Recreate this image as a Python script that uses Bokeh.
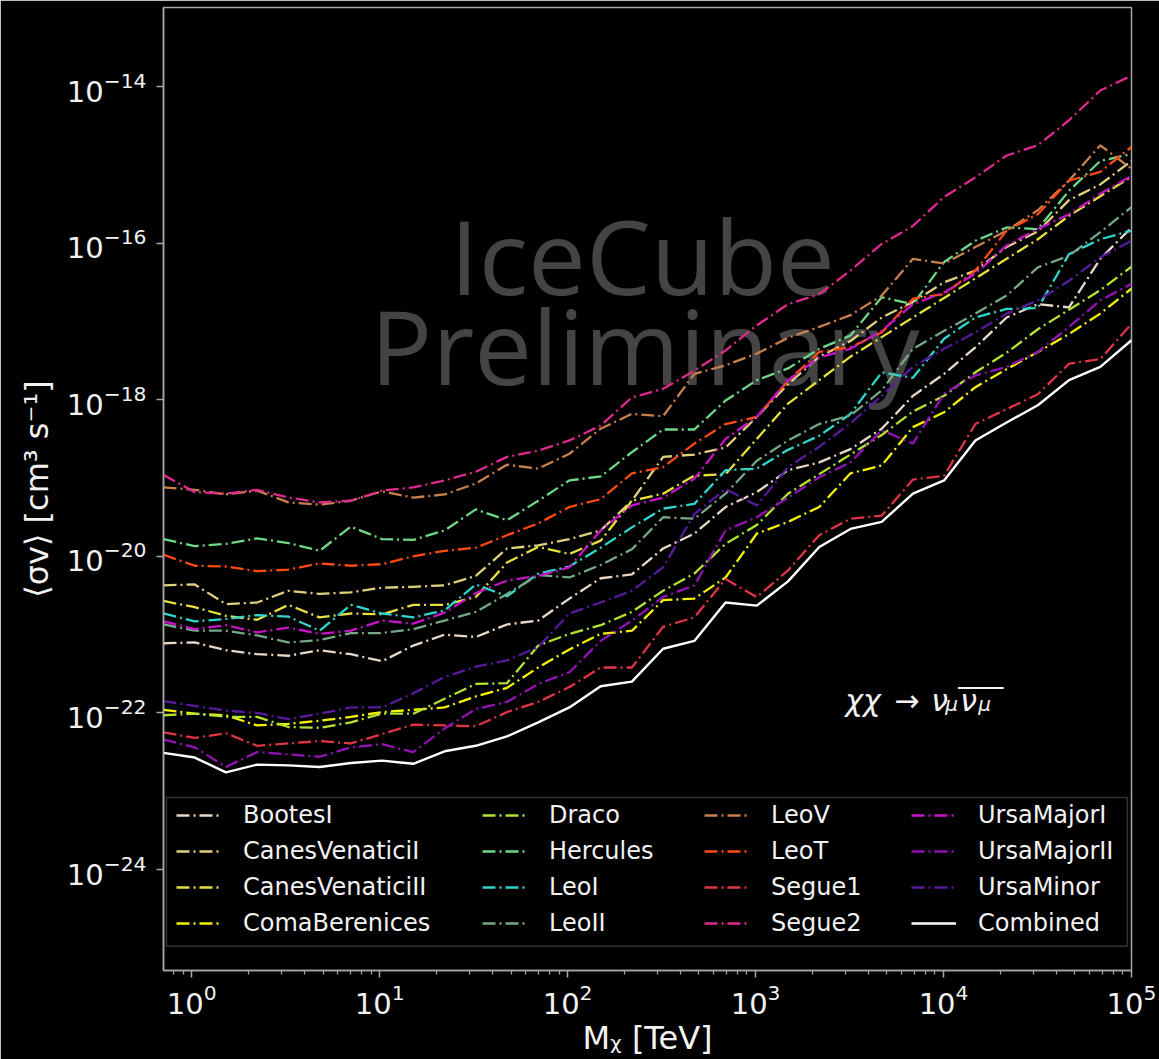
from bokeh.plotting import figure
from bokeh.models import Range1d, FixedTicker, Legend, LegendItem, Label, BoxAnnotation
from bokeh.embed import file_html
from bokeh.resources import INLINE

# Dark-matter mass grid [TeV]
mass_tev = [0.708, 1.038, 1.521, 2.230, 3.269, 4.793, 7.026, 10.30, 15.10, 22.14,
            32.46, 47.58, 69.75, 102.2, 149.9, 219.8, 322.2, 472.2, 692.3, 1015,
            1488, 2182, 3198, 4689, 6873, 10070, 14770, 21650, 31740, 46530, 68230, 100000]

# log10 of <sigma v> upper limits [cm^3 s^-1]
bootes_i = [-21.11, -21.10, -21.20, -21.25, -21.27, -21.20, -21.25, -21.34, -21.14, -21.00, -21.03, -20.87, -20.82, -20.54, -20.28, -20.23, -19.90, -19.71, -19.37, -19.18, -18.90, -18.80, -18.63, -18.37, -17.95, -17.67, -17.33, -16.95, -16.78, -16.82, -16.20, -15.80]
canes_venatici_i = [-20.37, -20.36, -20.61, -20.59, -20.44, -20.48, -20.46, -20.40, -20.39, -20.37, -20.25, -19.90, -19.86, -19.78, -19.67, -19.29, -18.73, -18.70, -18.61, -18.22, -17.80, -17.45, -17.25, -16.95, -16.75, -16.50, -16.35, -16.05, -15.85, -15.45, -15.25, -14.95]
canes_venatici_ii = [-20.57, -20.65, -20.76, -20.81, -20.62, -20.78, -20.73, -20.74, -20.62, -20.62, -20.52, -20.08, -19.88, -19.97, -19.80, -19.29, -19.20, -18.97, -18.95, -18.50, -18.05, -17.75, -17.45, -17.20, -16.95, -16.70, -16.45, -16.20, -15.95, -15.65, -15.40, -15.15]
coma_berenices = [-21.96, -22.01, -22.03, -22.16, -22.14, -22.10, -22.05, -21.99, -21.96, -21.93, -21.79, -21.68, -21.42, -21.19, -20.99, -20.95, -20.56, -20.54, -20.27, -19.71, -19.56, -19.37, -18.94, -18.84, -18.35, -18.16, -17.84, -17.61, -17.39, -17.16, -16.90, -16.58]
draco = [-22.03, -22.01, -22.05, -22.05, -22.18, -22.19, -22.12, -22.01, -22.01, -21.82, -21.63, -21.62, -21.14, -20.99, -20.88, -20.71, -20.44, -20.22, -19.84, -19.60, -19.20, -18.95, -18.70, -18.45, -18.15, -17.95, -17.65, -17.40, -17.10, -16.85, -16.60, -16.30]
hercules = [-19.78, -19.87, -19.84, -19.77, -19.83, -19.93, -19.62, -19.78, -19.79, -19.67, -19.40, -19.54, -19.29, -19.03, -18.98, -18.67, -18.38, -18.38, -18.01, -17.75, -17.60, -17.35, -17.18, -16.69, -16.78, -16.24, -15.97, -15.80, -15.82, -15.33, -14.95, -14.86]
leo_i = [-20.73, -20.83, -20.80, -20.75, -20.77, -20.95, -20.62, -20.73, -20.78, -20.69, -20.36, -20.51, -20.22, -20.13, -19.89, -19.63, -19.39, -19.33, -18.90, -18.88, -18.64, -18.46, -18.18, -17.65, -17.72, -17.22, -16.95, -16.84, -16.83, -16.14, -15.95, -15.84]
leo_ii = [-20.87, -20.95, -20.95, -21.01, -21.10, -21.07, -20.98, -20.98, -20.93, -20.82, -20.71, -20.48, -20.24, -20.27, -20.11, -19.91, -19.50, -19.52, -19.20, -18.78, -18.52, -18.31, -18.20, -17.88, -17.35, -17.12, -16.90, -16.67, -16.31, -16.16, -15.86, -15.54]
leo_v = [-19.12, -19.15, -19.21, -19.16, -19.31, -19.34, -19.29, -19.17, -19.25, -19.21, -19.07, -18.83, -18.88, -18.69, -18.37, -18.18, -18.21, -17.67, -17.56, -17.41, -17.21, -17.07, -16.92, -16.67, -16.20, -16.26, -16.05, -15.84, -15.58, -15.20, -14.75, -15.05]
leo_t = [-19.98, -20.12, -20.13, -20.19, -20.17, -20.09, -20.12, -20.10, -20.00, -19.93, -19.89, -19.73, -19.58, -19.37, -19.27, -18.94, -18.86, -18.56, -18.31, -18.22, -17.76, -17.39, -17.33, -17.14, -16.71, -16.65, -16.35, -15.84, -15.63, -15.20, -15.09, -14.77]
segue_1 = [-22.25, -22.32, -22.26, -22.42, -22.39, -22.36, -22.39, -22.27, -22.15, -22.16, -22.17, -21.99, -21.86, -21.67, -21.42, -21.42, -20.90, -20.78, -20.29, -20.52, -20.18, -19.73, -19.52, -19.48, -19.02, -18.97, -18.31, -18.12, -17.93, -17.54, -17.48, -17.03]
segue_2 = [-18.96, -19.18, -19.20, -19.15, -19.25, -19.31, -19.29, -19.16, -19.12, -19.03, -18.92, -18.73, -18.65, -18.52, -18.33, -17.97, -17.86, -17.63, -17.37, -17.05, -16.78, -16.65, -16.35, -16.01, -15.78, -15.41, -15.16, -14.88, -14.75, -14.43, -14.05, -13.86]
ursa_major_i = [-20.83, -20.93, -20.88, -20.97, -20.91, -20.99, -20.95, -20.82, -20.86, -20.72, -20.47, -20.31, -20.25, -20.14, -19.67, -19.35, -19.25, -19.01, -18.50, -18.22, -17.75, -17.46, -17.35, -17.12, -16.78, -16.63, -16.39, -16.03, -15.82, -15.63, -15.37, -15.14]
ursa_major_ii = [-22.34, -22.44, -22.69, -22.50, -22.53, -22.56, -22.44, -22.40, -22.50, -22.20, -21.95, -21.86, -21.63, -21.48, -21.08, -20.82, -20.52, -20.37, -19.67, -19.50, -19.25, -18.99, -18.80, -18.39, -18.56, -17.92, -17.69, -17.58, -17.39, -17.07, -16.73, -16.52]
ursa_minor = [-21.85, -21.91, -21.97, -22.00, -22.08, -22.01, -21.93, -21.93, -21.75, -21.54, -21.41, -21.33, -21.16, -20.73, -20.59, -20.44, -20.14, -19.46, -19.14, -19.35, -18.86, -18.60, -18.30, -17.95, -17.58, -17.35, -17.14, -16.90, -16.73, -16.48, -16.18, -15.97]
combined = [-22.51, -22.57, -22.76, -22.66, -22.67, -22.69, -22.64, -22.61, -22.65, -22.49, -22.42, -22.30, -22.12, -21.93, -21.66, -21.60, -21.18, -21.08, -20.59, -20.63, -20.32, -19.88, -19.65, -19.56, -19.20, -19.03, -18.52, -18.29, -18.07, -17.75, -17.58, -17.24]

names = ["BootesI", "CanesVenaticiI", "CanesVenaticiII", "ComaBerenices",
         "Draco", "Hercules", "LeoI", "LeoII",
         "LeoV", "LeoT", "Segue1", "Segue2",
         "UrsaMajorI", "UrsaMajorII", "UrsaMinor", "Combined"]
values = [bootes_i, canes_venatici_i, canes_venatici_ii, coma_berenices,
          draco, hercules, leo_i, leo_ii,
          leo_v, leo_t, segue_1, segue_2,
          ursa_major_i, ursa_major_ii, ursa_minor, combined]
colors = ["#e8d8c8", "#e0d07c", "#e6e03c", "#f4f400",
          "#b4e432", "#6ed888", "#2ed6cc", "#76a886",
          "#c8804c", "#ff4a14", "#e03446", "#de2a8e",
          "#c812c8", "#9212b4", "#561a9c", "#ffffff"]

FONT = "DejaVu Sans"
TXT = "#f2f2f2"
GRAY = "#a8a8a8"

p = figure(frame_width=968, frame_height=963,
           x_axis_type="log", y_axis_type="log",
           x_range=Range1d(10 ** -0.15, 1e5), y_range=Range1d(10 ** -25.29, 10 ** -12.99),
           output_backend="svg", toolbar_location=None,
           min_border_left=163, min_border_right=28, min_border_top=7, min_border_bottom=89,
           background_fill_color="black", border_fill_color="black",
           outline_line_color=GRAY, outline_line_width=1.5)
p.grid.visible = False

# watermark (behind the curves)
for txt, xpos, ylog in [("IceCube", 250, -16.15), ("Preliminary", 258, -17.30)]:
    p.add_layout(Label(x=xpos, y=10 ** ylog, text=txt, text_align="center",
                       text_baseline="alphabetic", text_font="Open Sans",
                       text_font_size="103px", text_color="#444444", level="underlay"))

renderers = []
for name, vals, col in zip(names, values, colors):
    ys = [10 ** v for v in vals]
    if name == "Combined":
        r = p.line(mass_tev, ys, line_color=col, line_width=2.4)
    else:
        r = p.line(mass_tev, ys, line_color=col, line_width=2.3, line_dash="13 4 2 4")
    renderers.append(r)

# axes
p.xaxis.ticker = FixedTicker(
    ticks=[1, 10, 100, 1e3, 1e4, 1e5],
    minor_ticks=[m * 10 ** e for e in range(-1, 5) for m in range(2, 10) if 0.7 < m * 10 ** e < 1e5])
p.yaxis.ticker = FixedTicker(ticks=[1e-24, 1e-22, 1e-20, 1e-18, 1e-16, 1e-14], minor_ticks=[])

for ax in (p.xaxis[0], p.yaxis[0]):
    ax.axis_line_color = GRAY
    ax.axis_line_width = 1.5
    ax.major_tick_line_color = GRAY
    ax.major_tick_line_width = 1.5
    ax.minor_tick_line_color = GRAY
    ax.minor_tick_line_width = 1.2
    ax.major_tick_out = 7
    ax.major_tick_in = 0
    ax.minor_tick_out = 4
    ax.minor_tick_in = 0
    ax.major_label_text_color = TXT
    ax.major_label_text_font = FONT
    ax.major_label_text_font_size = "29px"
    ax.axis_label_text_color = TXT
    ax.axis_label_text_font = FONT
    ax.axis_label_text_font_size = "32px"
    ax.axis_label_text_font_style = "normal"

p.xaxis.major_label_standoff = 6
p.xaxis.axis_label_standoff = 2
p.yaxis.major_label_standoff = 10
p.yaxis.axis_label_standoff = 8
p.xaxis.axis_label = "M\u1D6A [TeV]"
p.yaxis.axis_label = "\u27E8\u03C3v\u27E9 [cm\u00B3 s\u207B\u00B9]"

# channel label chi chi -> nu_mu nubar_mu
ax_x, ax_y = 3004, 10 ** -22.02
parts = [("\u03C7\u03C7", 0, 14, "30px", "italic"),
         ("\u2192", 49, 14, "30px", "normal"),
         ("\u03BD", 86, 14, "30px", "italic"),
         ("\u03BC", 100, 10, "20px", "italic"),
         ("\u03BD", 115, 14, "30px", "italic"),
         ("\u03BC", 133, 10, "20px", "italic"),
         ("\u203E\u203E\u203E", 113, 15, "30px", "normal")]
for txt, xo, yo, fs, st in parts:
    p.add_layout(Label(x=ax_x, y=ax_y, x_offset=xo, y_offset=yo, text=txt,
                       text_font=FONT, text_font_size=fs, text_font_style=st,
                       text_color=TXT, text_baseline="alphabetic"))

# legend frame
p.add_layout(BoxAnnotation(left=0.734, right=95100, bottom=10 ** -24.98, top=10 ** -23.08,
                           fill_color="black", fill_alpha=0.85,
                           line_color=GRAY, line_width=1.5, level="annotation"))

# legend: four columns, filled column by column
col_x = [13, 319, 541, 748]
for c in range(4):
    items = [LegendItem(label=names[i], renderers=[renderers[i]]) for i in range(4 * c, 4 * c + 4)]
    lg = Legend(items=items, location=(col_x[c], 33), orientation="vertical",
                label_text_font=FONT, label_text_font_size="24px", label_text_color=TXT,
                glyph_width=45, glyph_height=26, label_height=26, label_standoff=22,
                spacing=8, padding=0, margin=0,
                background_fill_alpha=0, border_line_alpha=0)
    p.add_layout(lg, "center")

open("out.html", "w").write(file_html(p, INLINE))
